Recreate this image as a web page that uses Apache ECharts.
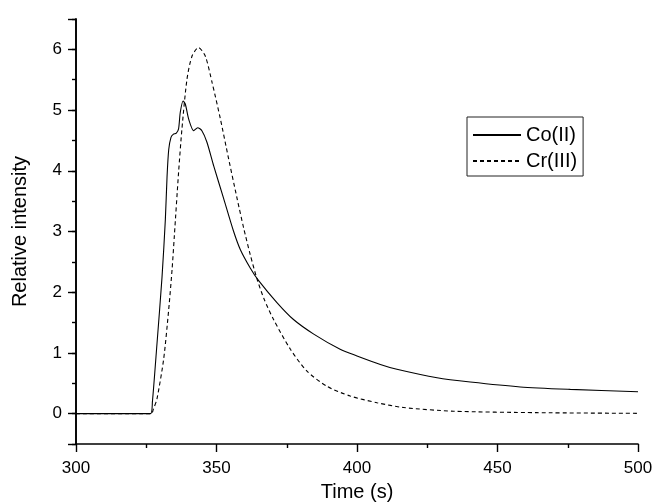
<!DOCTYPE html>
<html>
<head>
<meta charset="utf-8">
<script src="https://cdn.jsdelivr.net/npm/echarts@6/dist/echarts.min.js"></script>
<style>html,body{margin:0;padding:0;background:#fff}#c{width:656px;height:503px}</style>
</head>
<body>
<div id="c"></div>
<script>
const seriesNames = ['Co(II)', 'Cr(III)'];
const coTime = [300, 326.5, 327.2, 328.8, 330.6, 331.8, 332.4, 333.0, 333.8, 334.6, 335.7, 336.5, 337.1, 338.1, 338.9, 340.1, 341.9, 343.3, 344.8, 346.6, 349, 352.5, 356.1, 358.5, 362, 365, 371.5, 377.4, 384.6, 394, 400, 408.3, 414.2, 428.5, 440.3, 458.1, 475.9, 500];
const coValue = [0, 0, 0.2, 1.14, 2.24, 3.2, 3.9, 4.35, 4.55, 4.6, 4.62, 4.69, 4.96, 5.15, 5.1, 4.85, 4.66, 4.71, 4.66, 4.47, 4.08, 3.55, 3.0, 2.7, 2.4, 2.19, 1.83, 1.55, 1.31, 1.06, 0.95, 0.81, 0.73, 0.59, 0.52, 0.44, 0.40, 0.36];
const crTime = [300, 326.8, 327.5, 328.8, 331.2, 333, 334.2, 335, 336.5, 337.7, 339.5, 341.3, 343.6, 346, 348.4, 351.4, 354.3, 357.3, 359.6, 362, 364.4, 367, 370.3, 376.3, 382.2, 389.3, 397.6, 407.1, 416.6, 434.4, 464, 500];
const crValue = [0, 0, 0.07, 0.24, 0.9, 1.72, 2.38, 2.93, 3.97, 4.69, 5.51, 5.89, 6.03, 5.89, 5.46, 4.85, 4.2, 3.55, 3.07, 2.62, 2.22, 1.88, 1.55, 1.06, 0.70, 0.45, 0.29, 0.18, 0.10, 0.04, 0.016, 0.005];
const xTickLabels = ['300', '350', '400', '450', '500'];
const yTickLabels = ['0', '1', '2', '3', '4', '5', '6'];

const pairs = (xs, ys) => xs.map((x, i) => [x, ys[i]]);
const font = 'Liberation Sans, Arial, sans-serif';
const axisBase = {
  type: 'value', min: -0.5, max: 6.5,
  axisLine: {show: true, onZero: false, lineStyle: {color: '#000', width: 1.6}},
  splitLine: {show: false}
};

const chart = echarts.init(document.getElementById('c'), null, {renderer: 'canvas'});
chart.setOption({
  animation: false,
  backgroundColor: '#fff',
  textStyle: {fontFamily: font, color: '#000'},
  grid: {left: 76, right: 18, top: 19, bottom: 59, containLabel: false, outerBoundsMode: 'none'},
  legend: {
    orient: 'vertical',
    left: 467, top: 117,
    padding: [8, 6, 5, 5],
    itemGap: 6,
    itemWidth: 48, itemHeight: 20,
    borderColor: '#222', borderWidth: 1,
    itemStyle: {opacity: 0},
    textStyle: {fontFamily: font, fontSize: 20, color: '#000'},
    data: seriesNames
  },
  xAxis: {
    type: 'value', min: 300, max: 500, interval: 50,
    name: 'Time (s)', nameLocation: 'middle', nameGap: 38,
    nameTextStyle: {fontFamily: font, fontSize: 20, color: '#000'},
    axisLine: {show: true, onZero: false, lineStyle: {color: '#000', width: 1.6}},
    axisTick: {show: true, inside: false, length: 8, lineStyle: {color: '#000', width: 1.4}},
    minorTick: {show: true, splitNumber: 2, length: 4, lineStyle: {color: '#000', width: 1.4}},
    axisLabel: {fontFamily: font, fontSize: 17, color: '#000', margin: 16,
      formatter: v => xTickLabels.includes(String(v)) ? String(v) : ''},
    splitLine: {show: false}
  },
  yAxis: [
    Object.assign({}, axisBase, {
      splitNumber: 7,
      name: 'Relative intensity', nameLocation: 'middle', nameGap: 46, nameRotate: 90,
      nameTextStyle: {fontFamily: font, fontSize: 20, color: '#000'},
      axisTick: {show: true, inside: false, length: 8, lineStyle: {color: '#000', width: 1.4}},
      axisLabel: {fontFamily: font, fontSize: 17, color: '#000', margin: 14,
        formatter: v => yTickLabels.includes(String(v)) ? String(v) : ''}
    }),
    Object.assign({}, axisBase, {
      interval: 0.5, position: 'left',
      axisTick: {show: true, inside: false, length: 4, lineStyle: {color: '#000', width: 1.4}},
      axisLabel: {show: false}
    })
  ],
  series: [
    {name: seriesNames[0], type: 'line', data: pairs(coTime, coValue), symbol: 'none', smooth: 0.25,
     lineStyle: {color: '#000', width: 1.1, type: 'solid'}, itemStyle: {color: '#000'}},
    {name: seriesNames[1], type: 'line', data: pairs(crTime, crValue), symbol: 'none', smooth: 0.25,
     lineStyle: {color: '#000', width: 1.1, type: [4, 3]}, itemStyle: {color: '#000'}}
  ]
});
</script>
</body>
</html>
